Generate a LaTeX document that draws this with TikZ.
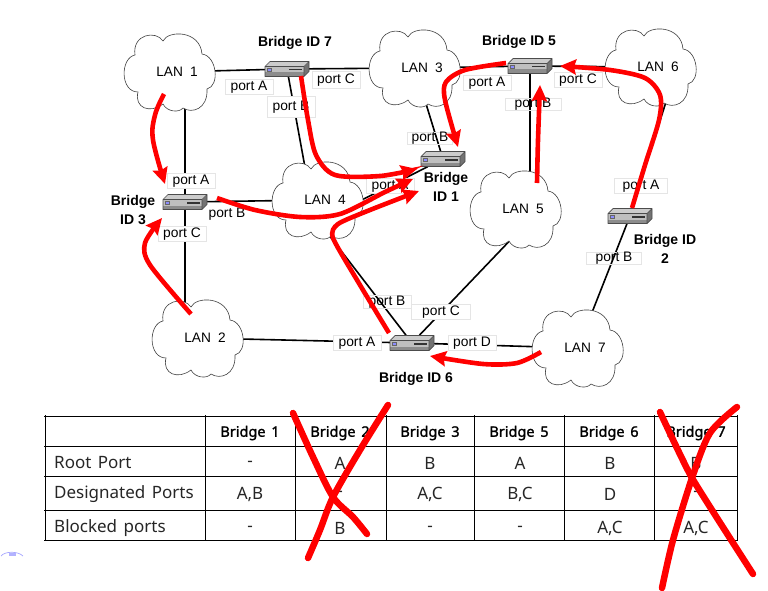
\documentclass[tikz,border=0pt]{standalone}
\usepackage{fontspec}
\setmainfont{Liberation Sans}
\newfontfamily\tabfont{Noto Sans}
\newfontfamily\tabheadfont[FakeBold=1.5]{Noto Sans}
\usetikzlibrary{arrows.meta,backgrounds,calc}
\tikzset{
  link/.style={draw=black,line width=1.6pt},
  cloudline/.style={draw=black!75,line width=0.6pt,fill=white},
  lantext/.style={font=\fontsize{13.7}{15}\selectfont,inner sep=0pt},
  portbox/.style={draw=black!10,line width=0.5pt,fill=white,inner sep=0pt,minimum width=48pt,minimum height=15pt,font=\fontsize{13.8}{15}\selectfont},
  portclear/.style={portbox,fill=none},
  idtext/.style={font=\bfseries\fontsize{14}{19}\selectfont,align=center,inner sep=0pt},
  bridgebox/.style={minimum width=44pt,minimum height=15pt,inner sep=0pt},
  redpath/.style={draw=red,line width=4.6pt,-{Stealth[length=16pt,width=15pt,inset=2pt]}},
  crossline/.style={draw=red,line width=6.5pt,line cap=round,line join=round},
  rowtext/.style={font=\tabfont\fontsize{17}{20}\selectfont,text=black!85,anchor=west,inner sep=0pt},
  celltext/.style={font=\tabfont\fontsize{17}{20}\selectfont,text=black!85,inner sep=0pt},
  headtext/.style={font=\tabheadfont\fontsize{14.5}{18}\selectfont,inner sep=0pt},
  gridline/.style={draw=black,line width=1pt}
}
\newcommand{\lancloud}[4]{%
  \draw[cloudline,shift={(#2,#3)}] (-35,-17)
    .. controls (-38,-38) and (-14,-42) .. (-7,-31)
    .. controls (-2,-42) and (30,-42) .. (32,-18)
    .. controls (47,-16) and (50,14) .. (37,17)
    .. controls (38,37) and (22,42) .. (13,36)
    .. controls (9,41) and (-3,40) .. (-7,32)
    .. controls (-20,42) and (-36,36) .. (-32,20)
    .. controls (-50,20) and (-50,-14) .. (-35,-17) -- cycle;
  \node[lantext] (#1) at (#2,#3) {\hspace*{14pt}LAN\hspace{7pt}#4};}
\newcommand{\bridgeunit}[3]{%
  \node[bridgebox] (#1) at (#2,#3) {};
  \begin{scope}[shift={(#2,#3)}]
    \fill[black!55] (-22,-2.5) -- (17,-2.5) -- (22,-7.5) -- (22,2.5) -- (17,7.5) -- (-22,7.5) -- cycle;
    \fill[black!25] (-22,-2.5) rectangle (17,6.5);
    \fill[black!45] (-22,3.5) rectangle (17,7.5);
    \fill[black!20] (-22,-2.5) -- (-17,-7.5) -- (22,-7.5) -- (17,-2.5) -- cycle;
    \draw[black!70,line width=0.7pt,line join=round] (-22,-2.5) -- (-17,-7.5) -- (22,-7.5) -- (22,2.5) -- (17,7.5) -- (-22,7.5) -- cycle (-22,-2.5) -- (17,-2.5) -- (22,-7.5) (17,-2.5) -- (17,7.5);
    \fill[blue!45!white,draw=black!60,line width=0.3pt] (-20,-0.5) rectangle (-15.5,2.5);
    \fill[black!80] (2,0) rectangle (14.5,1.5);
  \end{scope}}
\begin{document}
\begin{tikzpicture}[x=1pt,y=-1pt]
\useasboundingbox (0,0) rectangle (768,591);
% clouds
\lancloud{lan1}{170}{72}{1}
\lancloud{lan3}{415}{68}{3}
\lancloud{lan6}{651}{67}{6}
\lancloud{lan4}{318}{200}{4}
\lancloud{lan5}{516}{209}{5}
\lancloud{lan2}{198}{338}{2}
\lancloud{lan7}{578}{348}{7}
% bridges
\bridgeunit{b7}{287}{69}
\bridgeunit{b5}{530}{66}
\bridgeunit{b1}{443}{159}
\bridgeunit{b3}{185}{202}
\bridgeunit{b2}{630}{216}
\bridgeunit{b6}{412}{343}
% links
\begin{scope}[on background layer]
  \draw[link] (lan1) -- (b7);
  \draw[link] (b7) -- (lan3);
  \draw[link] (b3 |- lan1) -- (b3);
  \draw[link] (b3) -- (b3 |- lan2);
  \draw[link] (b7) -- ($(lan4)+(-7,0)$);
  \draw[link] (b3) -- (lan4);
  \draw[link] (lan3) -- (b1);
  \draw[link] ($(lan4)+(0,22)$) -- (b1);
  \draw[link] (lan3) -- (b5);
  \draw[link] (b5) -- (lan6);
  \draw[link] (b5) -- (b5 |- lan5);
  \draw[link] ($(lan6)+(26,0)$) -- (b2);
  \draw[link] (b2) -- (lan7);
  \draw[link] (lan2) -- (b6);
  \draw[link] ($(lan4)+(-16,0)$) -- (b6);
  \draw[link] ($(lan5)+(24,0)$) -- (b6);
  \draw[link] (b6) -- (lan7);
\end{scope}
% port labels
\node[portbox] (p7a) at (249,87) {port A};
\node[portbox,minimum height=21pt] (p7b) at (291,107) {port B};
\node[portbox,minimum height=17pt] (p7c) at (336,80) {port C};
\node[portbox] (p3a) at (191,181) {port A};
\node (p3b) at (227,214) [inner sep=0pt,font=\fontsize{13.8}{15}\selectfont] {port B};
\node[portbox] (p3c) at (182,234) {port C};
\node[portbox] (p5a) at (487,83) {port A};
\node[portclear,minimum width=56pt,minimum height=10pt] (p5b) at (533,104) {port B};
\node[portbox] (p5c) at (578,80) {port C};
\node[portclear,minimum width=45pt,minimum height=10pt] (p1b) at (430,138) {port B};
\node[portbox] (p1a) at (390,186) {port A};
\node[portbox,minimum width=53pt] (p2a) at (641,186) {port A};
\node[portclear,minimum width=55pt,minimum height=10pt] (p2b) at (614,258) {port B};
\node[portbox] (p6a) at (357,343) {port A};
\node[portclear,minimum height=13pt] (p6b) at (387,302) {port B};
\node[portbox,minimum width=59pt] (p6c) at (441,312) {port C};
\node[portbox] (p6d) at (472,343) {port D};
% bridge captions
\node[idtext] (id7) at (295,43) {Bridge ID 7};
\node[idtext] (id5) at (519,42) {Bridge ID 5};
\node[idtext] (id1) at (446,187) {Bridge\\ID 1};
\node[idtext] (id3) at (133,210) {Bridge\\ID 3};
\node[idtext] (id2) at (665,249) {Bridge ID\\2};
\node[idtext] (id6) at (416,379) {Bridge ID 6};
% free ends of red paths
\coordinate (r1s) at (164,94);  \coordinate (r1e) at (165,184);
\coordinate (r2s) at (301,76);  \coordinate (r2e) at (417,169);
\coordinate (r3s) at (217,198); \coordinate (r3e) at (413,179);
\coordinate (r4s) at (389,333); \coordinate (r4e) at (419,191);
\coordinate (r5s) at (506,63);  \coordinate (r5e) at (458,147);
\coordinate (r6s) at (537,183); \coordinate (r6e) at (540,85);
\coordinate (r7s) at (632,208); \coordinate (r7e) at (560,66);
\coordinate (r8s) at (191,314); \coordinate (r8e) at (162,218);
\coordinate (r9s) at (541,352); \coordinate (r9e) at (430,356);
% red paths
\draw[redpath] plot[smooth,tension=0.6] coordinates {(r1s) (155,115) (153,140) (r1e)};
\draw[redpath] plot[smooth,tension=0.5] coordinates {(r2s) (308,120) (316,155) (335,175) (380,176) (r2e)};
\draw[redpath] plot[smooth,tension=0.5] coordinates {(r3s) (255,210) (300,217) (340,214) (385,192) (r3e)};
\draw[redpath] plot[smooth,tension=0.4] coordinates {(r4s) (360,285) (333,238) (338,224) (370,210) (r4e)};
\draw[redpath] plot[smooth,tension=0.5] coordinates {(r5s) (465,70) (446,82) (445,100) (r5e)};
\draw[redpath] plot[smooth,tension=0.5] coordinates {(r6s) (538,140) (r6e)};
\draw[redpath] plot[smooth,tension=0.5] coordinates {(r7s) (645,165) (659,120) (660,95) (645,78) (610,70) (r7e)};
\draw[redpath] plot[smooth,tension=0.5] coordinates {(r8s) (150,265) (145,243) (r8e)};
\draw[redpath] plot[smooth,tension=0.5] coordinates {(r9s) (517,363) (483,364) (r9e)};
% table
\foreach \gx in {45,205,295,386,474,564,654,737}
  \draw[gridline] (\gx,415) -- (\gx,541);
\foreach \gy in {416,446,476,510,540}
  \draw[gridline] (44,\gy) -- (738,\gy);
\node[headtext] (h1) at (250,433) {Bridge\hspace{2pt} 1};
\node[headtext] (h2) at (340,433) {Bridge\hspace{2pt} 2};
\node[headtext] (h3) at (430,433) {Bridge\hspace{2pt} 3};
\node[headtext] (h5) at (519,433) {Bridge\hspace{2pt} 5};
\node[headtext] (h6) at (609,433) {Bridge\hspace{2pt} 6};
\node[headtext] (h7) at (696,433) {Bridge\hspace{2pt} 7};
\node[rowtext] (r1) at (54,463) {Root\hspace{2pt} Port};
\node[rowtext] (r2) at (54,494) {Designated\hspace{2pt} Ports};
\node[rowtext] (r3) at (54,528) {Blocked\hspace{2pt} ports};
\node[celltext] at (250,463.5) {-};
\node[celltext] at (340,463) {A};
\node[celltext] at (430,463) {B};
\node[celltext] at (520,463) {A};
\node[celltext] at (610,463) {B};
\node[celltext] at (696,463) {B};
\node[celltext] at (250,494) {A,B};
\node[celltext] at (340,494) {-};
\node[celltext] at (430,494) {A,C};
\node[celltext] at (520,494) {B,C};
\node[celltext] at (610,494) {D};
\node[celltext] at (696,494) {-};
\node[celltext] at (250,528.5) {-};
\node[celltext] at (340,528) {B};
\node[celltext] at (430,528.5) {-};
\node[celltext] at (520,528.5) {-};
\node[celltext] at (610,528) {A,C};
\node[celltext] at (696,528) {A,C};
% crosses
\draw[crossline] plot[smooth,tension=0.5] coordinates {(293,413) (313,457) (333,497) (353,517) (367,534)};
\draw[crossline] plot[smooth,tension=0.5] coordinates {(388,405) (360,450) (333,497) (320,530) (308,558)};
\draw[crossline] plot[smooth,tension=0.3] coordinates {(660,412) (692,478) (753,574)};
\draw[crossline] plot[smooth,tension=0.5] coordinates {(737,407) (710,433) (692,478) (673,540) (662,588)};
% faint mark
\draw[blue!35!white,line width=0.7pt] (1,556) .. controls (5,551) and (18,551) .. (23,556);
\fill[blue!30!white] (9,552.5) rectangle (16,555.5);
\end{tikzpicture}
\end{document}
